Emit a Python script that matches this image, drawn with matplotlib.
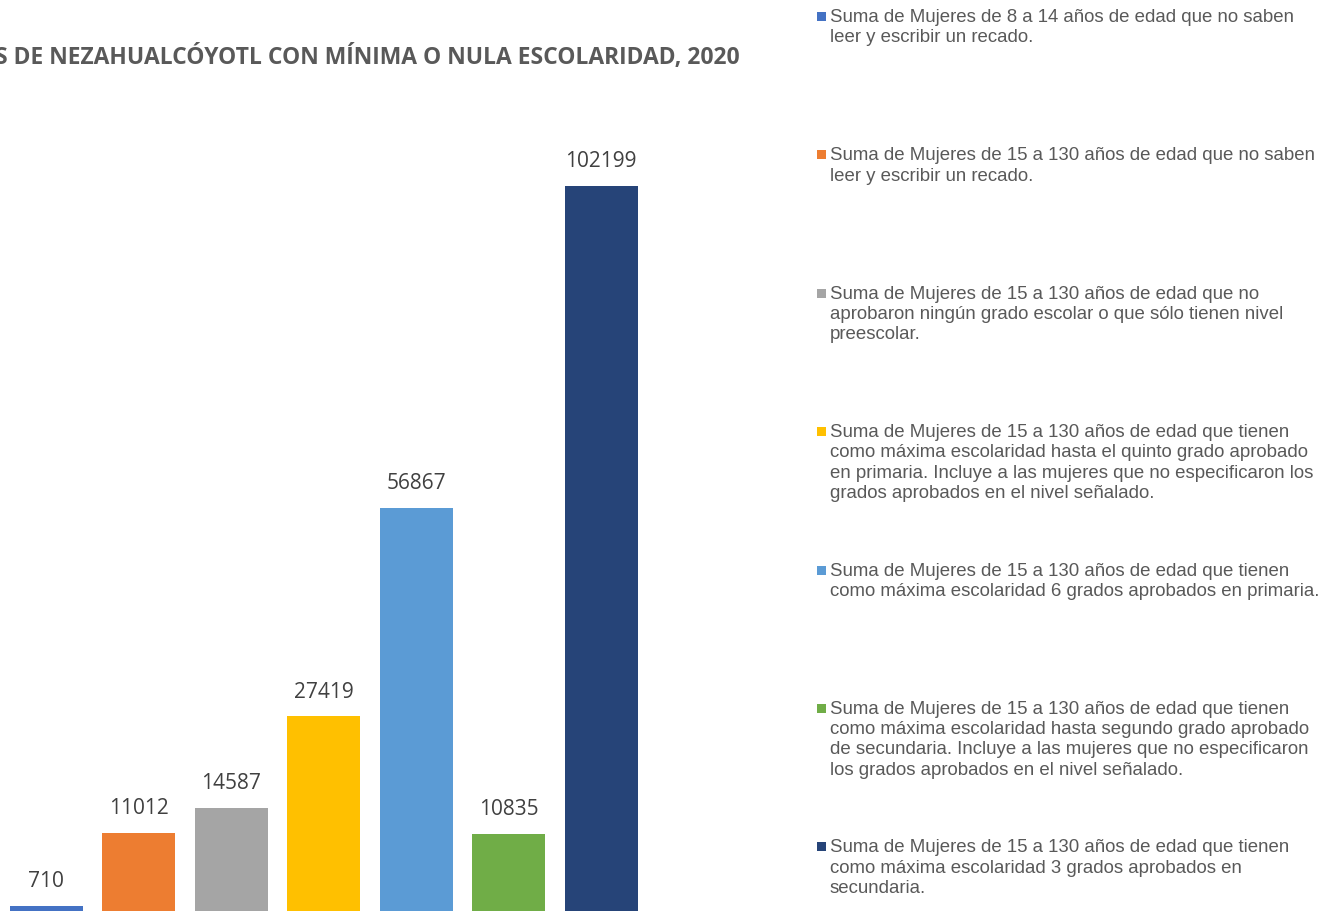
import matplotlib
matplotlib.use("Agg")
import matplotlib.pyplot as plt
from matplotlib.patches import Rectangle

title = "MUJERES DE NEZAHUALCÓYOTL CON MÍNIMA O NULA ESCOLARIDAD, 2020"
categories = [
    "Suma de Mujeres de 8 a 14 años de edad que no saben\nleer y escribir un recado.",
    "Suma de Mujeres de 15 a 130 años de edad que no saben\nleer y escribir un recado.",
    "Suma de Mujeres de 15 a 130 años de edad que no\naprobaron ningún grado escolar o que sólo tienen nivel\npreescolar.",
    "Suma de Mujeres de 15 a 130 años de edad que tienen\ncomo máxima escolaridad hasta el quinto grado aprobado\nen primaria. Incluye a las mujeres que no especificaron los\ngrados aprobados en el nivel señalado.",
    "Suma de Mujeres de 15 a 130 años de edad que tienen\ncomo máxima escolaridad 6 grados aprobados en primaria.",
    "Suma de Mujeres de 15 a 130 años de edad que tienen\ncomo máxima escolaridad hasta segundo grado aprobado\nde secundaria. Incluye a las mujeres que no especificaron\nlos grados aprobados en el nivel señalado.",
    "Suma de Mujeres de 15 a 130 años de edad que tienen\ncomo máxima escolaridad 3 grados aprobados en\nsecundaria.",
]
values = [710, 11012, 14587, 27419, 56867, 10835, 102199]
colors = ["#4472C4", "#ED7D31", "#A5A5A5", "#FFC000", "#5B9BD5", "#70AD47", "#264478"]

W, H = 1323, 911
fig = plt.figure(figsize=(W / 100, H / 100), dpi=100)
fig.patch.set_facecolor("white")

ax = fig.add_axes([0, 0, 647.5 / W, 811 / H])
x = list(range(len(values)))
ax.bar(x, values, width=0.79, color=colors)
ax.set_xlim(-0.5, len(values) - 0.5)
ax.set_ylim(0, 102199 * 811 / 725)
ax.axis("off")

for xi, v in zip(x, values):
    ax.annotate(str(v), (xi, v), xytext=(0, 17.6), textcoords="offset points",
                ha="center", va="center", fontsize=15, color="#404040",
                family="Open Sans")

# Title (cut off at the left edge as in the reference)
fig.text(740 / W, 1 - 56 / H, title, ha="right", va="center",
         fontsize=16.45, fontweight="bold", color="#595959", family="Open Sans")

# Legend
y0 = 16.5
step = 138.4
for i, (lab, c) in enumerate(zip(categories, colors)):
    ytop = y0 + i * step
    fig.patches.append(Rectangle((817 / W, 1 - (ytop + 4.5) / H), 9 / W, 9 / H,
                                 transform=fig.transFigure, facecolor=c,
                                 edgecolor="none"))
    fig.text(830 / W, 1 - (ytop - 7.5) / H, lab, ha="left", va="top",
             fontsize=13.4, color="#595959", family="Liberation Sans",
             linespacing=1.25)

fig.savefig("out.png", dpi=100)
